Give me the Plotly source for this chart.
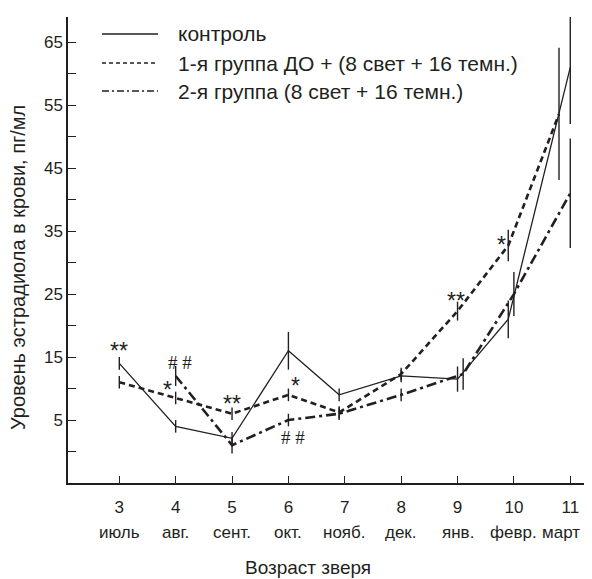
import plotly.graph_objects as go

# ---- data ----
ages = [3, 4, 5, 6, 7, 8, 9, 10, 11]
months = ["июль", "авг.", "сент.", "окт.", "нояб.", "дек.", "янв.", "февр.", "март"]

control_x = [3, 4, 5, 6, 6.9, 8, 9, 9.9, 11]
control_y = [14, 4, 2.1, 16, 9, 12, 11.5, 21, 61]
control_err = [1, 1, 1, 3, 1, 1, 2, 3, 9]

group1_x = [3, 4, 5, 6, 6.9, 8, 9, 9.9, 10.8]
group1_y = [11, 8.5, 6, 9, 6.2, 12.3, 22.3, 32.7, 53.6]
group1_err = [1, 1, 1, 1, 1, 1, 1.5, 2.5, 10.5]

group2_x = [4, 5, 6, 6.9, 8, 9.1, 10, 11]
group2_y = [12, 1, 5, 6, 9, 12.3, 25, 41]
group2_err = [1.6, 1.3, 1, 1, 1, 2.5, 3.5, 8.7]

names = ["контроль", "1-я группа ДО + (8 свет + 16 темн.)", "2-я группа (8 свет + 16 темн.)"]

star_x = [3, 3.86, 5, 6.13, 8.97, 9.78]
star_y = [16.9, 10.7, 8.5, 11.3, 24.9, 33.8]
star_text = ["**", "*", "**", "*", "**", "*"]

hash_x = [4.08, 6.08]
hash_y = [14.2, 2.3]

y_ticks = [0, 5, 10, 15, 20, 25, 30, 35, 40, 45, 50, 55, 60, 65]
y_ticktext = ["" if v % 10 == 0 else str(v) for v in y_ticks]

# ---- layout geometry (pixels) ----
OFF = 8                      # browser body margin
W, H = 592 - OFF, 579 - OFF
L, R, T, B = 60, 2, 9, 96
PW, PH = W - L - R, H - T - B

def px(xp):
    return (xp - OFF - L) / PW

def py(yp):
    return (H - B - (yp - OFF)) / PH

FONT = "Liberation Sans, Arial, sans-serif"
INK = "#231f20"
styles = [dict(width=1.3, dash="solid"),
          dict(width=2.6, dash="6px,4px"),
          dict(width=2.6, dash="10px,4px,3px,4px")]
legend_styles = [dict(width=1.3, dash="solid"),
                 dict(width=1.6, dash="4px,3px"),
                 dict(width=1.6, dash="7px,3px,2px,3px")]

fig = go.Figure()
for xs, ys, es, st, nm in [(control_x, control_y, control_err, styles[0], names[0]),
                           (group1_x, group1_y, group1_err, styles[1], names[1]),
                           (group2_x, group2_y, group2_err, styles[2], names[2])]:
    fig.add_trace(go.Scatter(
        x=xs, y=ys, mode="lines", name=nm,
        line=dict(color=INK, width=st["width"], dash=st["dash"]),
        error_y=dict(type="data", array=es, visible=True, width=0,
                     thickness=1.4, color=INK),
        showlegend=False))

annotations = []
shapes = []
# custom legend
leg_rows = [34, 63, 91]
for i, nm in enumerate(names):
    shapes.append(dict(type="line", xref="paper", yref="paper",
                       x0=px(102), x1=px(158), y0=py(leg_rows[i]), y1=py(leg_rows[i]),
                       line=dict(color=INK, **legend_styles[i])))
    annotations.append(dict(xref="paper", yref="paper", x=px(176), y=py(leg_rows[i]),
                            text=nm, showarrow=False, xanchor="left", yanchor="middle",
                            font=dict(family=FONT, size=21, color=INK)))

# month labels (the last one is kept inside the page edge)
for i, (a, m) in enumerate(zip(ages, months)):
    annotations.append(dict(xref="x", yref="paper", x=a, y=py(532), text=m,
                            showarrow=False, xanchor="center", yanchor="middle",
                            xshift=-9 if i == len(ages) - 1 else 0,
                            font=dict(family=FONT, size=17, color=INK)))

# significance marks
for x, y, t in zip(star_x, star_y, star_text):
    annotations.append(dict(xref="x", yref="y", x=x, y=y, text=t, showarrow=False,
                            xanchor="center", yanchor="middle", yshift=-6,
                            font=dict(family=FONT, size=23, color=INK)))
for x, y in zip(hash_x, hash_y):
    annotations.append(dict(xref="x", yref="y", x=x, y=y, text="# #", showarrow=False,
                            xanchor="center", yanchor="middle",
                            font=dict(family="Liberation Serif, Times New Roman, serif", size=19, color=INK)))

# axis titles
annotations.append(dict(xref="paper", yref="paper", x=px(18), y=py(268),
                        text="Уровень эстрадиола в крови, пг/мл", textangle=-90,
                        showarrow=False, xanchor="center", yanchor="middle",
                        font=dict(family=FONT, size=20, color=INK)))
annotations.append(dict(xref="paper", yref="paper", x=px(308), y=py(567),
                        text="Возраст зверя", showarrow=False,
                        xanchor="center", yanchor="middle",
                        font=dict(family=FONT, size=19, color=INK)))

fig.update_layout(
    width=W, height=H,
    margin=dict(l=L, r=R, t=T, b=B, autoexpand=False),
    paper_bgcolor="white", plot_bgcolor="white",
    showlegend=False,
    annotations=annotations, shapes=shapes,
    xaxis=dict(range=[2.09, 11.35], tickmode="array", tickvals=ages,
               ticktext=[str(a) for a in ages], ticks="inside", ticklen=7,
               tickwidth=1.3, tickcolor=INK, showline=True, linecolor=INK,
               linewidth=1.5, showgrid=False, zeroline=False, ticklabelstandoff=8,
               automargin=False,
               tickfont=dict(family=FONT, size=17, color=INK)),
    yaxis=dict(range=[-5, 69], tickmode="array", tickvals=y_ticks, ticktext=y_ticktext,
               ticks="inside", ticklen=8, tickwidth=1.3, tickcolor=INK,
               showline=True, linecolor=INK, linewidth=1.5, showgrid=False,
               automargin=False,
               zeroline=False, tickfont=dict(family=FONT, size=17, color=INK)),
)

fig.write_html("out.html")
